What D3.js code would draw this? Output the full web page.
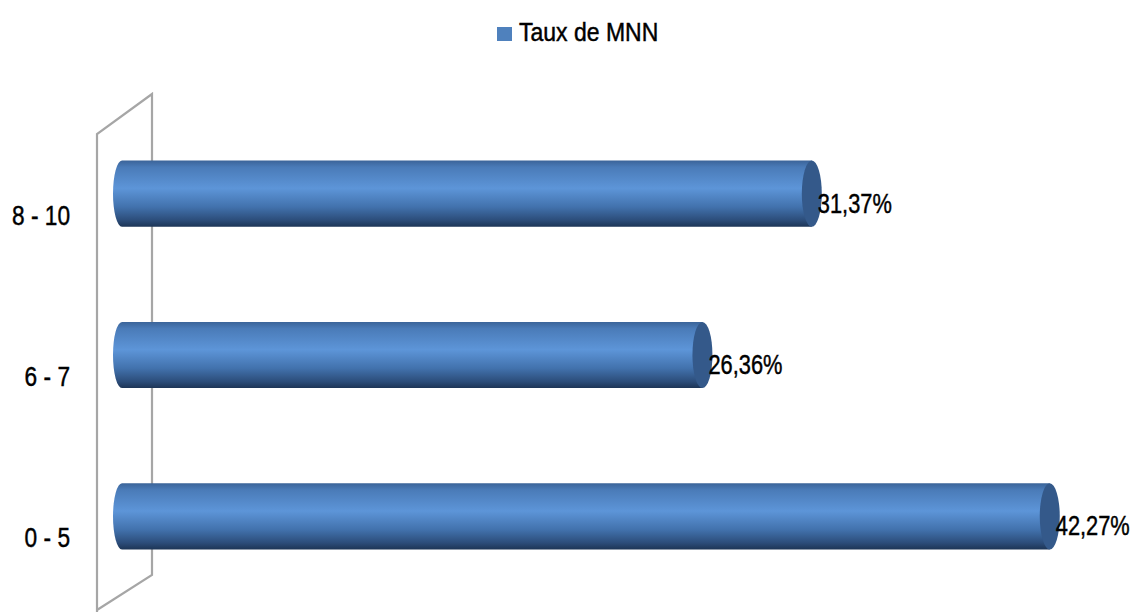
<!DOCTYPE html>
<html>
<head>
<meta charset="utf-8">
<script src="https://cdn.jsdelivr.net/npm/d3@7"></script>
<style>
body { margin: 0; background: #fff; }
text { font-family: "Liberation Sans", Arial, sans-serif; fill: #000; stroke: #000; stroke-width: 0.45px; }
</style>
</head>
<body>
<svg id="chart"></svg>
<script>
// data
var categories = ["8 - 10", "6 - 7", "0 - 5"];
var values = [31.37, 26.36, 42.27];
var valueLabels = ["31,37%", "26,36%", "42,27%"];
var seriesName = "Taux de MNN";

var screen = {width: 1139, height: 612};

var svg = d3.select("#chart")
	.attr("width", screen.width)
	.attr("height", screen.height);

var xScale = d3.scaleLinear()
	.domain([0, 45])
	.range([127, 127 + 45 * 21.83]);

var yScale = d3.scaleBand()
	.domain(categories)
	.range([113, 597])
	.paddingInner(0.59)
	.paddingOuter(0.295);

// narrow text: horizontal squeeze around the anchor point
var narrow = function (sel, k) {
	sel.attr("transform", function () {
		var x = +d3.select(this).attr("x");
		return "translate(" + x + ",0) scale(" + k + ",1) translate(" + (-x) + ",0)";
	});
};

// gradient for cylinder body
var defs = svg.append("defs");
var grad = defs.append("linearGradient")
	.attr("id", "cyl")
	.attr("x1", 0).attr("y1", 0).attr("x2", 0).attr("y2", 1);
grad.append("stop").attr("offset", "0%").attr("stop-color", "#3b6499");
grad.append("stop").attr("offset", "10%").attr("stop-color", "#4a7bb8");
grad.append("stop").attr("offset", "42%").attr("stop-color", "#5d95d8");
grad.append("stop").attr("offset", "70%").attr("stop-color", "#4272ad");
grad.append("stop").attr("offset", "90%").attr("stop-color", "#2c4d7a");
grad.append("stop").attr("offset", "100%").attr("stop-color", "#1d3556");

// back wall (3D left wall)
var wall = svg.append("g")
	.attr("fill", "none")
	.attr("stroke", "#a6a6a6")
	.attr("stroke-width", 2.2);
wall.append("path").attr("d", "M97,612 L97,134 L152,94 L152,575 L97,610");

// legend
var legend = svg.append("g");
legend.append("rect")
	.attr("x", 497).attr("y", 27)
	.attr("width", 15).attr("height", 14)
	.attr("fill", "#4f81bd");
legend.append("text")
	.attr("x", 519).attr("y", 41)
	.attr("font-size", 25)
	.text(seriesName)
	.call(narrow, 0.92);

// bars
var bars = svg.append("g").selectAll("g.bar")
	.data(categories)
	.enter()
	.append("g")
	.attr("class", "bar");

var capRx = 10;
var leftRx = 9;

bars.append("path")
	.attr("d", function (c, i) {
		var y0 = yScale(c), h = yScale.bandwidth();
		var xl = xScale(0) - 5, xr = xScale(values[i]);
		return "M" + xr + "," + y0 +
			" L" + xl + "," + y0 +
			" A" + leftRx + "," + (h / 2) + " 0 0 0 " + xl + "," + (y0 + h) +
			" L" + xr + "," + (y0 + h) + " Z";
	})
	.attr("fill", "url(#cyl)");

bars.append("ellipse")
	.attr("cx", function (c, i) { return xScale(values[i]); })
	.attr("cy", function (c) { return yScale(c) + yScale.bandwidth() / 2; })
	.attr("rx", capRx)
	.attr("ry", yScale.bandwidth() / 2)
	.attr("fill", "#34598a");

// value labels
bars.append("text")
	.attr("x", function (c, i) { return xScale(values[i]) + 6; })
	.attr("y", function (c) { return yScale(c) + yScale.bandwidth() / 2 + 19; })
	.attr("font-size", 28)
	.text(function (c, i) { return valueLabels[i]; })
	.call(narrow, 0.78);

// category labels
svg.append("g").selectAll("text")
	.data(categories)
	.enter()
	.append("text")
	.attr("x", 70)
	.attr("y", function (c) { return yScale(c) + yScale.bandwidth() / 2 + 31; })
	.attr("text-anchor", "end")
	.attr("font-size", 28)
	.text(function (c) { return c; })
	.call(narrow, 0.81);
</script>
</body>
</html>
